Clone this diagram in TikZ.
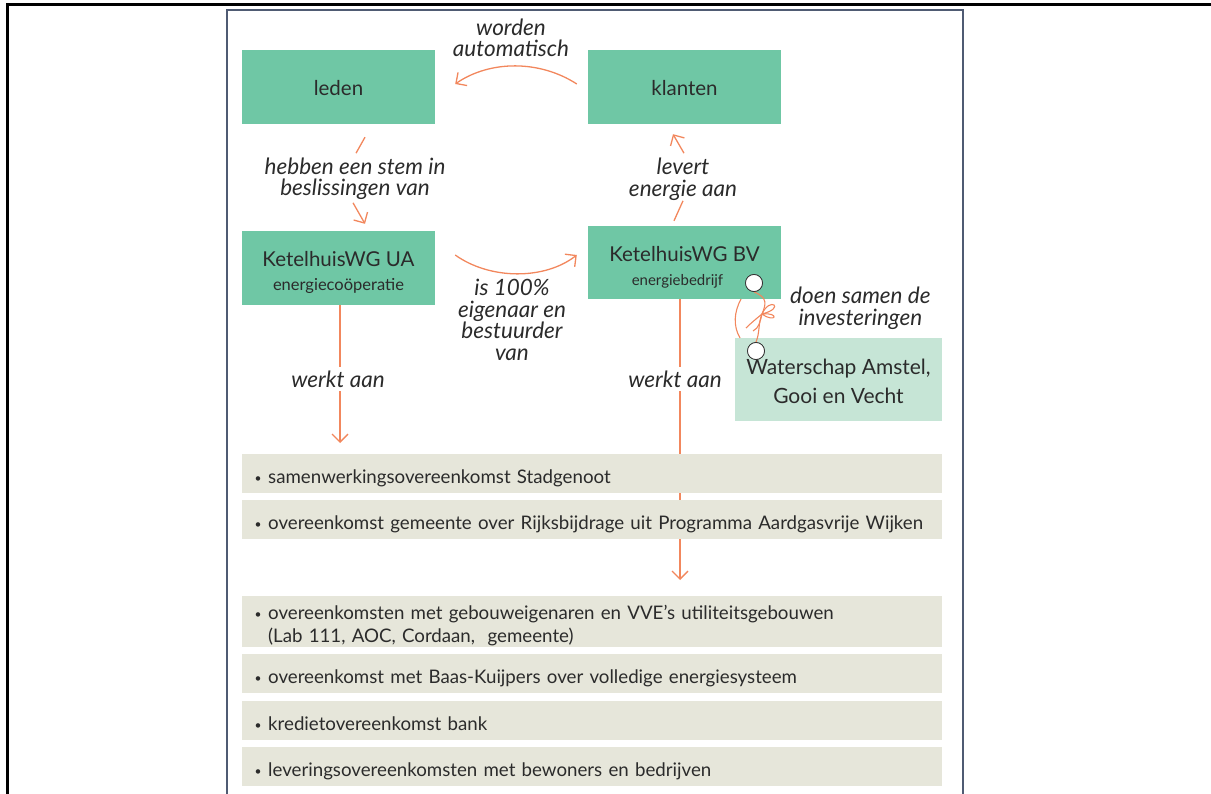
\documentclass[tikz,border=0pt]{standalone}
\usepackage{fontspec}
\setmainfont{Lato}
\usepackage{tikz}
\usetikzlibrary{arrows.meta,positioning,calc}

\definecolor{mint}{HTML}{6FC7A5}
\definecolor{palemint}{HTML}{C6E5D6}
\definecolor{sand}{HTML}{E6E6DA}
\definecolor{coral}{HTML}{F2875D}
\definecolor{ink}{HTML}{2B2B2B}
\definecolor{slate}{HTML}{4F5B73}

\newcommand{\blt}{\makebox[13.5pt][l]{\raisebox{1.5pt}{\fontsize{12}{12}\selectfont\textbullet}}}

\begin{document}
\begin{tikzpicture}[
        x=1pt, y=-1pt,
        >={Straight Barb[length=8pt,width=16pt]},
        entity/.style={fill=mint, minimum width=193pt, minimum height=74pt, inner sep=0pt, align=center, text=ink, font=\fontsize{20.5}{24}\selectfont},
        partner/.style={fill=palemint, minimum width=207pt, minimum height=83pt, inner sep=0pt, align=center, text=ink, font=\fontsize{21}{29}\selectfont},
        deal/.style={fill=sand, anchor=north west, minimum width=700pt, text width=675pt, inner xsep=12.5pt, inner ysep=0pt, align=left, text=ink, font=\fontsize{18.7}{22.5}\selectfont},
        rel/.style={align=center, inner sep=1pt, text=ink, font=\fontsize{22.5}{21.5}\selectfont\itshape},
        link/.style={draw=coral, line width=1.3pt},
        cord/.style={draw=coral, line width=1.1pt},
        ring/.style={circle, draw=ink, fill=white, line width=0.7pt, minimum size=17pt, inner sep=0pt}
    ]
    \useasboundingbox (0,0) rectangle (1211,794);

    % Frames
    \draw[line width=3pt] (7,794) -- (7,5) -- (1211,5);
    \draw[slate, line width=2pt] (227,794) -- (227,10) -- (962.5,10) -- (962.5,794);

    % Top row
    \node[entity, text height=17pt, text depth=0pt] (leden) at (338.5,87) {leden};
    \node[entity, text height=17pt, text depth=0pt] (klanten) at (684.5,87) {klanten};

    % Second row
    \node[entity] (ua) at (338.5,268) {\rule{0pt}{25pt}KetelhuisWG UA\\{\fontsize{16.5}{16.5}\selectfont energiecoöperatie}};
    \node[entity, minimum height=73pt] (bv) at (684.5,262.5) {\rule{0pt}{24pt}KetelhuisWG BV\\{\fontsize{15}{15}\selectfont energiebedrijf}\hspace*{14pt}};
    \node[partner] (water) at (838.5,379.5) {\rule{0pt}{20pt}Waterschap Amstel,\\Gooi en Vecht};

    % Relation labels
    \node[rel] (worden) at (511,38) {worden\\automatisch};
    \node[rel] (stem) at (355,179) {hebben een stem in\\beslissingen van};
    \node[rel] (levert) at (683,179.5) {levert\\energie aan};
    \node[rel] (eigenaar) at (512,320) {is 100\%\\eigenaar en\\bestuurder\\van};
    \node[rel, anchor=west] (samen) at (789,308.5) {doen samen de\\investeringen};

    % Connections between the boxes
    \draw[link, ->] ($(klanten.west)+(-11,-3)$) .. controls +(-37,-24) and +(35,-24) .. ($(leden.east)+(20,-3)$);
    \draw[link] ($(leden.south)+(26.5,13)$) -- ++(-9,16);
    \draw[link, ->] ($(ua.north)+(14.5,-28)$) -- ++(12,21);
    \draw[link] ($(bv.north)+(-10.5,-5)$) -- ++(9,-20);
    \draw[link, ->] ($(klanten.south)+(-0.5,29)$) -- ++(-11,-19);
    \draw[link, ->] ($(ua.east)+(20,-13)$) .. controls +(35,25) and +(-32,25) .. ($(bv.west)+(-11,-7.5)$);

    % werkt aan
    \coordinate (leftend) at (340,443);
    \coordinate (rightend) at (680,580);
    \draw[link, ->] (ua.south -| leftend) -- (leftend);
    \draw[link, ->] (bv.south -| rightend) -- (rightend);
    \node[rel, fill=white, inner ysep=4pt] (werktua) at (338,379) {werkt aan};
    \node[rel, fill=white, inner ysep=4pt] (werktbv) at (675,379) {werkt aan};

    % Tied together
    \node[ring] (tagtop) at (754,283) {};
    \node[ring] (tagbot) at (756,351) {};
    \coordinate (knot) at (762,314);
    \draw[cord] (741,299) .. controls (734,312) and (733,326) .. (740,338);
    \draw[cord] (tagtop.south) .. controls +(14,6) and +(4,-10) .. (knot) .. controls +(-4,10) and +(4,-10) .. (tagbot.north);
    \draw[cord] (knot) .. controls +(8,-18) and +(24,-6) .. (knot);
    \draw[cord] (knot) .. controls +(18,-2) and +(14,10) .. (knot);
    \draw[cord] (knot) .. controls +(-6,5) and +(5,-5) .. ++(-16,14);
    \draw[cord] (knot) .. controls +(-2,8) and +(6,-3) .. ++(-9,17);
    \node[ring] at (tagtop) {};
    \node[ring] at (tagbot) {};

    % Agreements
    \node[deal, minimum height=39pt, text height=20pt, text depth=0pt] (deal1) at (242,454) {\blt samenwerkingsovereenkomst Stadgenoot};
    \node[deal, minimum height=39pt, text height=20pt, text depth=0pt] (deal2) at (242,500) {\blt overeenkomst gemeente over Rijksbijdrage uit Programma Aardgasvrije Wijken};
    \node[deal, minimum height=51pt] (deal3) at (242,596) {\rule{0pt}{22pt}\blt overeenkomsten met gebouweigenaren en VVE’s utiliteitsgebouwen\\\hspace*{13.5pt}(Lab 111, AOC, Cordaan,\ \ gemeente)};
    \node[deal, minimum height=39pt, text height=20pt, text depth=0pt] (deal4) at (242,654) {\blt overeenkomst met Baas-Kuijpers over volledige energiesysteem};
    \node[deal, minimum height=39pt, text height=20pt, text depth=0pt] (deal5) at (242,701) {\blt kredietovereenkomst bank};
    \node[deal, minimum height=39pt, text height=20pt, text depth=0pt] (deal6) at (242,747) {\blt leveringsovereenkomsten met bewoners en bedrijven};

\end{tikzpicture}
\end{document}
